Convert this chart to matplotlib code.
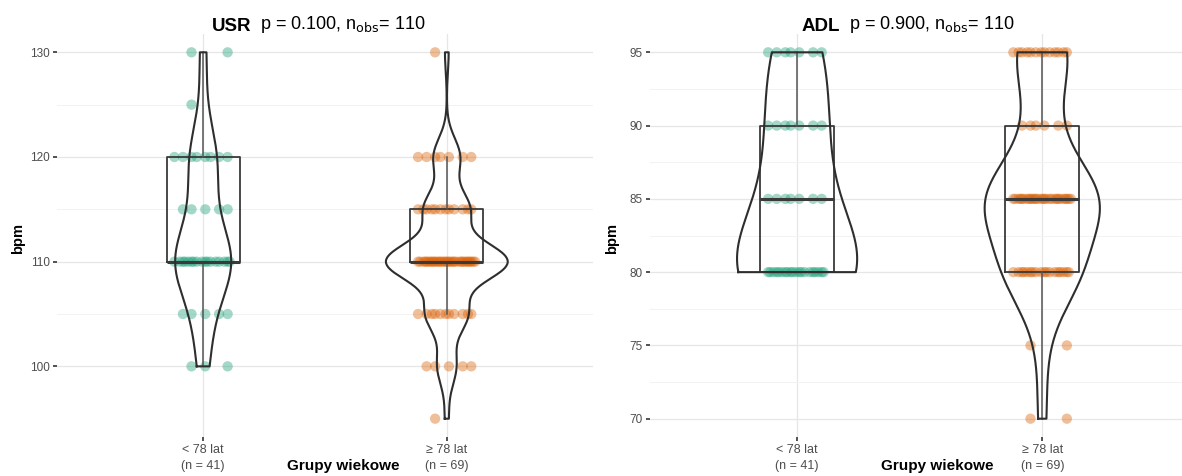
import numpy as np
import matplotlib
matplotlib.use("Agg")
import matplotlib.pyplot as plt

plt.rcParams['font.family'] = ['Liberation Sans', 'DejaVu Sans']

# values (value -> count per age group)
groups = ['< 78 lat', '≥ 78 lat']
group_n = [41, 69]
colors = ['#1B9E77', '#D95F02']

usr_vals_young = [100, 105, 110, 115, 120, 125, 130]
usr_cnt_young = [3, 5, 17, 5, 8, 1, 2]
usr_vals_old = [95, 100, 105, 110, 115, 120, 130]
usr_cnt_old = [1, 5, 11, 32, 12, 7, 1]

adl_vals_young = [80, 85, 90, 95]
adl_cnt_young = [20, 7, 7, 7]
adl_vals_old = [70, 75, 80, 85, 90, 95]
adl_cnt_old = [2, 2, 18, 28, 6, 13]

panels = [
    dict(name='USR', p='0.100', nobs=110,
         data=[(usr_vals_young, usr_cnt_young), (usr_vals_old, usr_cnt_old)],
         yticks=[100, 110, 120, 130], yminor=[105, 115, 125], ylim=(93.25, 131.75),
         vwidth=[0.23, 0.5], bw=[3.2, 1.8]),
    dict(name='ADL', p='0.900', nobs=110,
         data=[(adl_vals_young, adl_cnt_young), (adl_vals_old, adl_cnt_old)],
         yticks=[70, 75, 80, 85, 90, 95], yminor=[72.5, 77.5, 82.5, 87.5, 92.5], ylim=(68.75, 96.25),
         vwidth=[0.49, 0.47], bw=[3.6, 2.7]),
]

W, H = 1182, 476
fig = plt.figure(figsize=(W / 100, H / 100), dpi=100)

ax_rects = [[57 / W, 39 / H, 536 / W, 403 / H], [650 / W, 39 / H, 532 / W, 403 / H]]
xlims = [(0.4, 2.6), (0.4, 2.57)]
title_x = [212, 802]
xlab_x = [343, 937]
ylab_x = [18, 612]


def kde(x, grid, bw):
    z = (grid[:, None] - x[None, :]) / bw
    return np.exp(-0.5 * z ** 2).sum(axis=1)


for k, pan in enumerate(panels):
    ax = fig.add_axes(ax_rects[k])
    samples = [np.repeat(v, c).astype(float) for v, c in pan['data']]

    # violins (trimmed to data range, like ggplot)
    for i, s in enumerate(samples):
        yy = np.linspace(s.min(), s.max(), 400)
        d = kde(s, yy, pan['bw'][i])
        half = d / d.max() * pan['vwidth'][i] / 2
        xs = np.concatenate([i + 1 - half, (i + 1 + half)[::-1], [i + 1 - half[0]]])
        ys = np.concatenate([yy, yy[::-1], [yy[0]]])
        ax.plot(xs, ys, color='#2E2E2E', lw=1.5, zorder=3)

    # boxes
    ax.boxplot(samples, positions=[1, 2], widths=0.3, showfliers=False, showcaps=False,
               boxprops=dict(color='#3A3A3A', linewidth=1.3),
               whiskerprops=dict(color='#555555', linewidth=1.1),
               medianprops=dict(color='#3A3A3A', linewidth=2.2),
               zorder=2)

    # jittered points (deterministic spread)
    for i, (vals, cnts) in enumerate(pan['data']):
        for v, c in zip(vals, cnts):
            off = ((np.arange(c) * 0.618 + 0.3) % 1 - 0.5) * 0.24
            ax.scatter(i + 1 + off, np.full(c, v), s=55, color=colors[i], alpha=0.4,
                       edgecolors='none', zorder=1)

    ax.set_xlim(*xlims[k])
    ax.set_ylim(*pan['ylim'])
    ax.set_yticks(pan['yticks'])
    ax.set_yticks(pan['yminor'], minor=True)
    ax.set_xticks([1, 2])
    ax.set_xticklabels([f'{g}\n(n = {n})' for g, n in zip(groups, group_n)],
                       fontsize=9, color='#4D4D4D', linespacing=1.5)
    ax.tick_params(axis='y', labelsize=8.5, labelcolor='#4D4D4D', length=3, width=1.2,
                   color='#333333', pad=2)
    ax.tick_params(axis='y', which='minor', length=0)
    ax.tick_params(axis='x', length=3, width=1.2, color='#333333', pad=2)
    ax.grid(True, which='major', color='#E6E6E6', linewidth=0.9, zorder=0)
    ax.grid(True, which='minor', axis='y', color='#F2F2F2', linewidth=0.7, zorder=0)
    ax.set_axisbelow(True)
    for sp in ax.spines.values():
        sp.set_visible(False)

    fig.text(ylab_x[k] / W, 0.5, 'bpm', rotation=90, fontsize=10.5, fontweight='bold',
             ha='center', va='center')
    fig.text(xlab_x[k] / W, 1 - 466 / H, 'Grupy wiekowe', fontsize=11, fontweight='bold',
             ha='center', va='center')
    t1 = fig.text(title_x[k] / W, 1 - 31 / H, pan['name'], fontsize=13.5, fontweight='bold',
                  ha='left', va='baseline')
    ax.annotate(rf"p = {pan['p']}, n$_{{\mathrm{{obs}}}}$= {pan['nobs']}", xy=(1, 0),
                xycoords=t1, xytext=(6, 0), textcoords='offset points',
                fontsize=13, ha='left', va='bottom', annotation_clip=False)

fig.savefig('out.png', dpi=100)
